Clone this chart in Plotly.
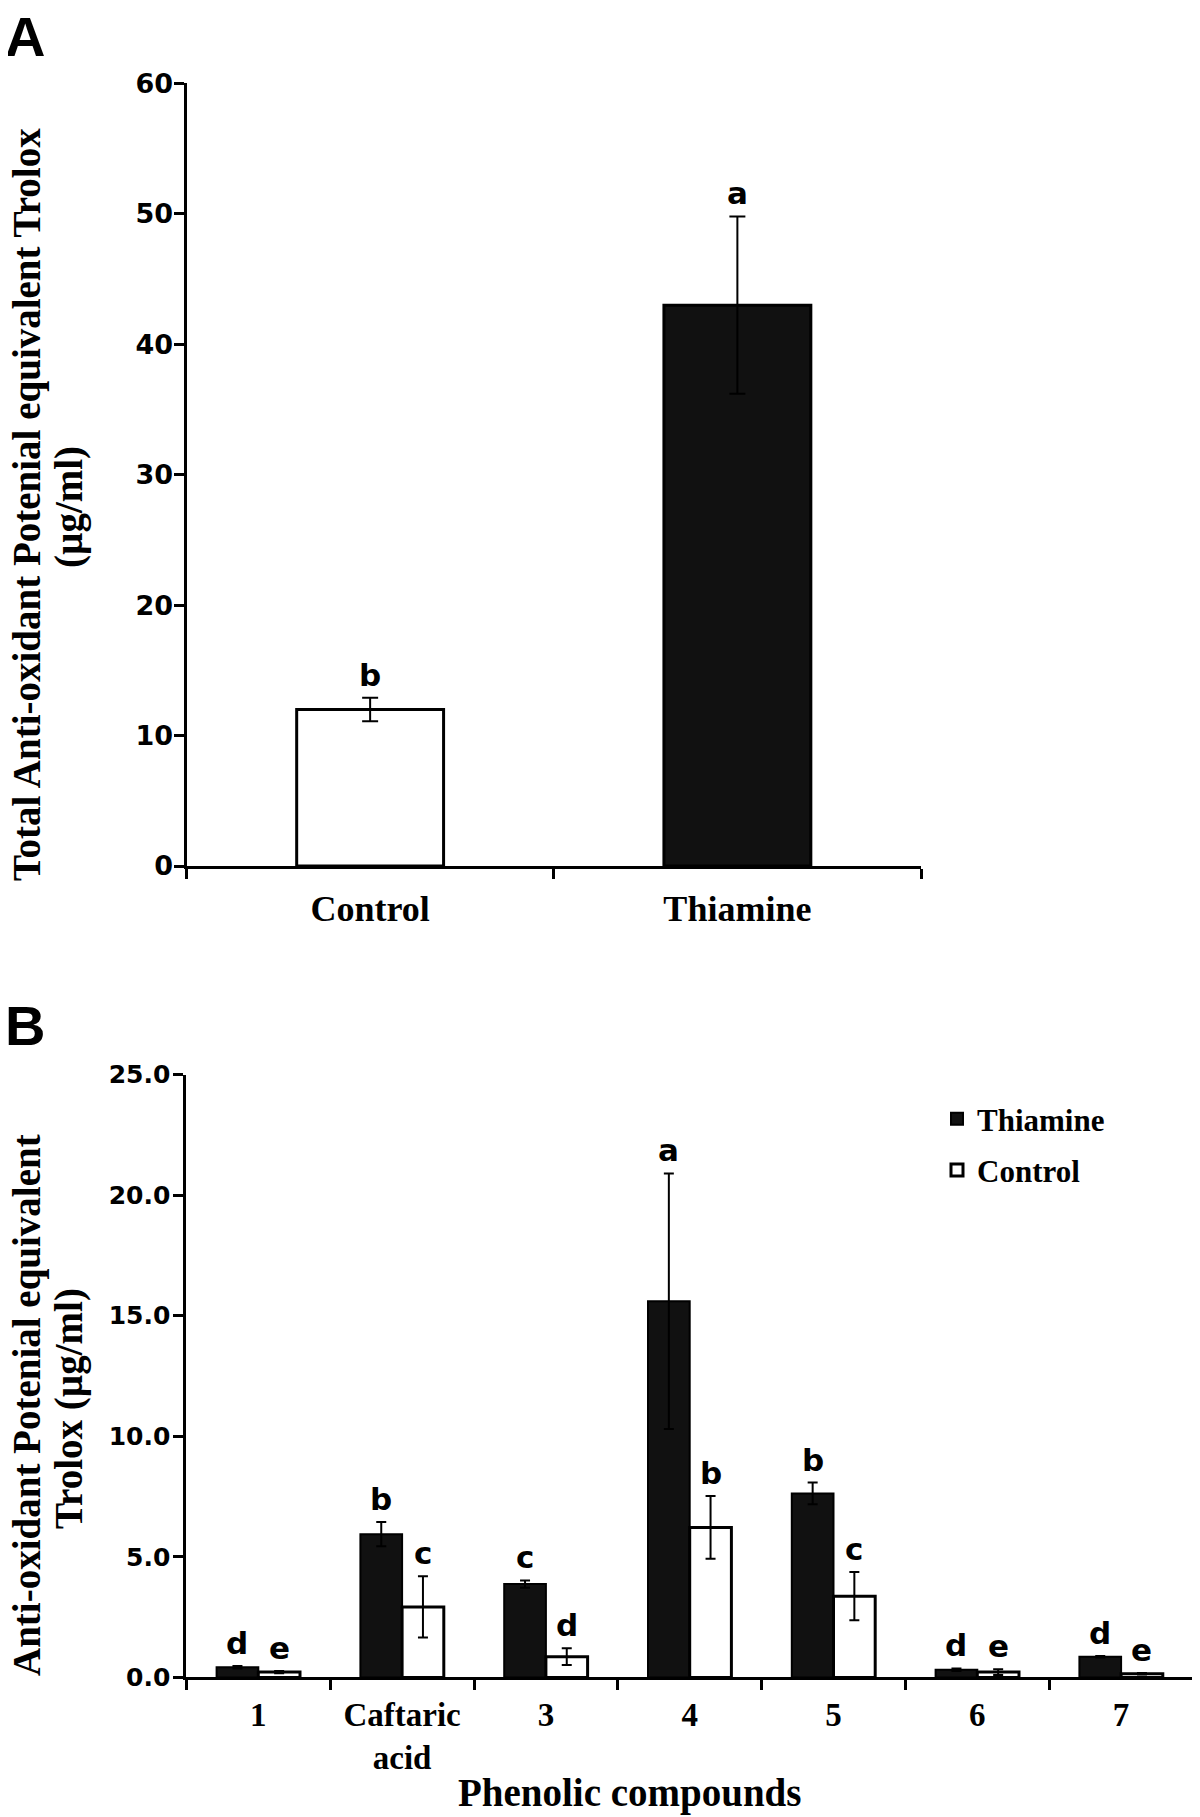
import plotly.graph_objects as go

# ---------------- data ----------------
A_categories = ["Control", "Thiamine"]
A_values = [12.0, 43.0]
A_errors = [0.9, 6.8]
A_letters = ["b", "a"]
A_colors = ["white", "#111111"]

B_categories = ["1", "Caftaric<br>acid", "3", "4", "5", "6", "7"]
B_thiamine = [0.42, 5.94, 3.87, 15.6, 7.63, 0.32, 0.86]
B_thiamine_err = [0.05, 0.50, 0.15, 5.3, 0.45, 0.05, 0.03]
B_control = [0.22, 2.92, 0.86, 6.22, 3.37, 0.22, 0.15]
B_control_err = [0.05, 1.27, 0.35, 1.30, 1.00, 0.12, 0.03]
B_thiamine_letters = ["d", "b", "c", "a", "b", "d", "d"]
B_control_letters = ["e", "c", "d", "b", "c", "e", "e"]

# page body has an 8px margin: size the figure so it fills the window exactly
OFF = 8
W, H = 1200 - OFF, 1817 - OFF
BARGAP = 0.42

SERIF = "Liberation Serif, Times New Roman, serif"
SANS = "DejaVu Sans, sans-serif"

def px_x(p):
    return (p - OFF) / W

def px_y(p):
    return 1 - (p - OFF) / H

fig = go.Figure()

# Panel A
fig.add_trace(go.Bar(
    x=A_categories, y=A_values, width=0.4,
    marker=dict(color=A_colors, line=dict(color="black", width=3)),
    error_y=dict(type="data", array=A_errors, color="black", thickness=2, width=8),
    xaxis="x", yaxis="y", showlegend=False,
))

# Panel B
fig.add_trace(go.Bar(
    name="Thiamine", x=B_categories, y=B_thiamine,
    marker=dict(color="#111111", line=dict(color="black", width=2)),
    error_y=dict(type="data", array=B_thiamine_err, color="black", thickness=2, width=5),
    xaxis="x2", yaxis="y2", legendgroup="t",
))
fig.add_trace(go.Bar(
    name="Control", x=B_categories, y=B_control,
    marker=dict(color="white", line=dict(color="black", width=3)),
    error_y=dict(type="data", array=B_control_err, color="black", thickness=2, width=5),
    xaxis="x2", yaxis="y2", legendgroup="c",
))

annotations = []
letter_font = dict(family=SANS, size=31, color="black", weight="bold")
for i, (v, e, l) in enumerate(zip(A_values, A_errors, A_letters)):
    annotations.append(dict(x=i, y=v + e, xref="x", yref="y", text=l, showarrow=False,
                            yanchor="bottom", font=letter_font, yshift=3))
off = (1 - BARGAP) / 4
for i in range(len(B_categories)):
    annotations.append(dict(x=i - off, y=B_thiamine[i] + B_thiamine_err[i], xref="x2", yref="y2",
                            text=B_thiamine_letters[i], showarrow=False, yanchor="bottom",
                            font=letter_font, yshift=3))
    annotations.append(dict(x=i + off, y=B_control[i] + B_control_err[i], xref="x2", yref="y2",
                            text=B_control_letters[i], showarrow=False, yanchor="bottom",
                            font=letter_font, yshift=3))

title_font = dict(family=SERIF, size=39, color="black", weight="bold")
annotations += [
    dict(x=px_x(27), y=px_y(505), xref="paper", yref="paper", textangle=-90, showarrow=False,
         text="Total Anti-oxidant Potenial equivalent Trolox", font=title_font,
         xanchor="center", yanchor="middle"),
    dict(x=px_x(69), y=px_y(507), xref="paper", yref="paper", textangle=-90, showarrow=False,
         text="(µg/ml)", font=title_font, xanchor="center", yanchor="middle"),
    dict(x=px_x(27), y=px_y(1405), xref="paper", yref="paper", textangle=-90, showarrow=False,
         text="Anti-oxidant Potenial equivalent", font=title_font,
         xanchor="center", yanchor="middle"),
    dict(x=px_x(69), y=px_y(1409), xref="paper", yref="paper", textangle=-90, showarrow=False,
         text="Trolox (µg/ml)", font=title_font, xanchor="center", yanchor="middle"),
    dict(x=px_x(629), y=px_y(1793), xref="paper", yref="paper", showarrow=False,
         text="Phenolic compounds", font=title_font, xanchor="center", yanchor="middle"),
    dict(x=px_x(3), y=px_y(36), xref="paper", yref="paper", showarrow=False, text="A",
         font=dict(family="Liberation Sans, Arial, sans-serif", size=56, color="black", weight="bold"),
         xanchor="left", yanchor="middle"),
    dict(x=px_x(3), y=px_y(1025), xref="paper", yref="paper", showarrow=False, text="B",
         font=dict(family="Liberation Sans, Arial, sans-serif", size=56, color="black", weight="bold"),
         xanchor="left", yanchor="middle"),
]

axis_common = dict(showline=True, linecolor="black", linewidth=3, ticks="outside",
                   ticklen=10, tickwidth=3, tickcolor="black", showgrid=False, zeroline=False,
                   mirror=False, automargin=False)

fig.update_layout(
    width=W, height=H,
    margin=dict(l=0, r=0, t=0, b=0, autoexpand=False),
    paper_bgcolor="white", plot_bgcolor="white",
    barmode="group", bargap=BARGAP, bargroupgap=0,
    xaxis=dict(domain=[px_x(186.5), px_x(921)], anchor="y", type="category",
               tickson="boundaries", range=[-0.5, 1.5], ticklabelstandoff=9,
               tickfont=dict(family=SERIF, size=36, color="black", weight="bold"),
               **axis_common),
    yaxis=dict(domain=[px_y(866), px_y(83.4)], anchor="x", range=[0, 60], dtick=10,
               ticklabelstandoff=-5,
               tickfont=dict(family=SANS, size=27, color="black", weight="bold"),
               **axis_common),
    xaxis2=dict(domain=[px_x(186.4), px_x(1193)], anchor="y2", type="category",
                tickson="boundaries", range=[-0.5, 6.5], ticklabelstandoff=6,
                tickfont=dict(family=SERIF, size=33, color="black", weight="bold"),
                **axis_common),
    yaxis2=dict(domain=[px_y(1677.4), px_y(1074.5)], anchor="x2", range=[0, 25], dtick=5,
                tickformat=".1f", ticklabelstandoff=-2,
                tickfont=dict(family=SANS, size=25, color="black", weight="bold"),
                **axis_common),
    legend=dict(x=px_x(937), y=px_y(1092), xanchor="left", yanchor="top",
                font=dict(family=SERIF, size=31, color="black", weight="bold"),
                bgcolor="rgba(0,0,0,0)", tracegroupgap=8, itemwidth=30),
    annotations=annotations,
)

fig.write_html("out.html")
